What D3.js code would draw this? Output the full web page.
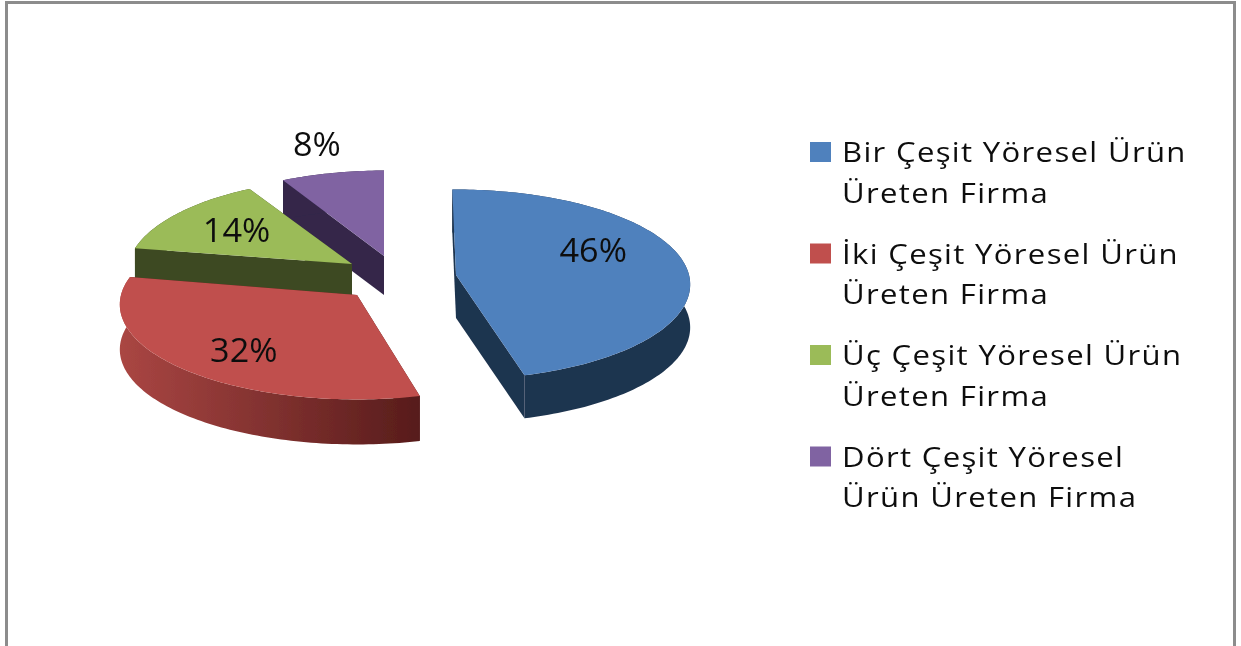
<!DOCTYPE html>
<html>
<head>
<meta charset="utf-8">
<script src="https://cdn.jsdelivr.net/npm/d3@7"></script>
<style>
  html, body { margin: 0; padding: 0; background: #fff; overflow: hidden; }
  text { font-family: "Open Sans", sans-serif; fill: #111; }
</style>
</head>
<body>
<div id="visualization"></div>
<script>
// Chart data
var categories = ["Bir Çeşit Yöresel Ürün Üreten Firma", "İki Çeşit Yöresel Ürün Üreten Firma", "Üç Çeşit Yöresel Ürün Üreten Firma", "Dört Çeşit Yöresel Ürün Üreten Firma"];
var legendLines = [
   ["Bir Çeşit Yöresel Ürün", "Üreten Firma"],
   ["İki Çeşit Yöresel Ürün", "Üreten Firma"],
   ["Üç Çeşit Yöresel Ürün", "Üreten Firma"],
   ["Dört Çeşit Yöresel", "Ürün Üreten Firma"]
];
var shares = [46, 32, 14, 8];

// Colours
var topColors = ["#4f81bd", "#c0504d", "#9bbb59", "#8064a2"];
var sideColors = ["#1f344f", "url(#redWall)", "#3e4a22", "#34264a"];

// Layout of the exploded slices (pixels), one entry per slice
var width = 1241, height = 646;
var origins = [[456, 275], [357, 295], [352, 264], [384, 256]];
var depths = [43, 45, 31, 39];
var radiiX = [233, 236, 224, 228];
var tilts = [-1, 0.5, -1, 0];
var labelRadius = [0.6, 0.7, 0.6, 1.36];
var labelShift = [[0, -16], [7, 6], [-9, -2], [1, -2]];
var ry = 94, perspective = 0.1;

var svg = d3.select("#visualization")
            .append("svg")
            .attr("width", width)
            .attr("height", height)
            .style("display", "block");

var defs = svg.append("defs");
defs.append("filter").attr("id", "soft")
    .attr("x", "-5%").attr("y", "-5%").attr("width", "110%").attr("height", "110%")
    .append("feGaussianBlur").attr("stdDeviation", 0.7);

var redWall = defs.append("linearGradient").attr("id", "redWall");
redWall.append("stop").attr("offset", "0%").attr("stop-color", "#aa4643");
redWall.append("stop").attr("offset", "100%").attr("stop-color", "#571c1b");

// Frame, open at the bottom edge of the picture
svg.append("path")
   .attr("d", "M6.5," + height + "V2.5H1234.5V" + height)
   .attr("fill", "none")
   .attr("stroke", "#8c8c8c")
   .attr("stroke-width", 3);

var color = d3.scaleOrdinal().domain(categories).range(topColors);
var side = d3.scaleOrdinal().domain(categories).range(sideColors);

var slices = d3.pie().sort(null).value(function(d) { return d; })(shares);

// Tilted pie plane with a little perspective: angle + radius -> offset from the slice origin
function project(i, angle, r) {
   var a = angle + tilts[i] * Math.PI / 180;
   var u = r * Math.sin(a);
   var v = -r * Math.cos(a);
   var s = 1 / (1 - perspective * v);
   return [radiiX[i] * u * s, ry * v * s];
}

function arcPoints(d, i) {
   var n = Math.ceil((d.endAngle - d.startAngle) / 0.02);
   return d3.range(n + 1).map(function(k) {
      return project(i, d.startAngle + (d.endAngle - d.startAngle) * k / n, 1);
   });
}

var line = d3.line();

var chart = svg.append("g").attr("filter", "url(#soft)");

// Back slices first, the red one last because it covers the green wall
[3, 2, 0, 1].forEach(function(i) {
   var d = slices[i];
   var arc = arcPoints(d, i);
   var depth = depths[i];
   var cutColor = i === 1 ? "#571c1b" : side(categories[i]);
   var g = chart.append("g")
                .attr("transform", "translate(" + origins[i][0] + "," + origins[i][1] + ")");

   function wall(points) {
      var lowered = points.map(function(p) { return [p[0], p[1] + depth]; }).reverse();
      return line(points.concat(lowered)) + "Z";
   }

   g.append("path").attr("d", wall([[0, 0], arc[0]])).attr("fill", cutColor);
   g.append("path").attr("d", wall([[0, 0], arc[arc.length - 1]])).attr("fill", cutColor);
   g.append("path").attr("d", wall(arc)).attr("fill", side(categories[i]));
   g.append("path").attr("d", line([[0, 0]].concat(arc)) + "Z").attr("fill", color(categories[i]));
});

// Percentage labels
var labels = svg.append("g").attr("filter", "url(#soft)");
slices.forEach(function(d, i) {
   var p = project(i, (d.startAngle + d.endAngle) / 2, labelRadius[i]);
   var x = origins[i][0] + p[0] + labelShift[i][0];
   var y = origins[i][1] + p[1] + labelShift[i][1] + 11;
   labels.append("text")
         .attr("transform", "translate(" + x + "," + y + ") scale(1.07,1)")
         .attr("text-anchor", "middle")
         .style("font-size", "32px")
         .text(d.value + "%");
});

// Legend
var legend = svg.append("g").attr("filter", "url(#soft)");
var legendY = d3.scaleBand().domain(categories).range([142, 548]);
categories.forEach(function(c, i) {
   var y = legendY(c);
   legend.append("rect")
         .attr("x", 810).attr("y", y)
         .attr("width", 21).attr("height", 20)
         .attr("fill", color(c));
   legendLines[i].forEach(function(t, j) {
      legend.append("text")
            .attr("transform", "translate(842," + (y + 20 + j * 40.5) + ") scale(1.11,1)")
            .style("font-size", "28px")
            .style("letter-spacing", "1.2px")
            .text(t);
   });
});
</script>
</body>
</html>
